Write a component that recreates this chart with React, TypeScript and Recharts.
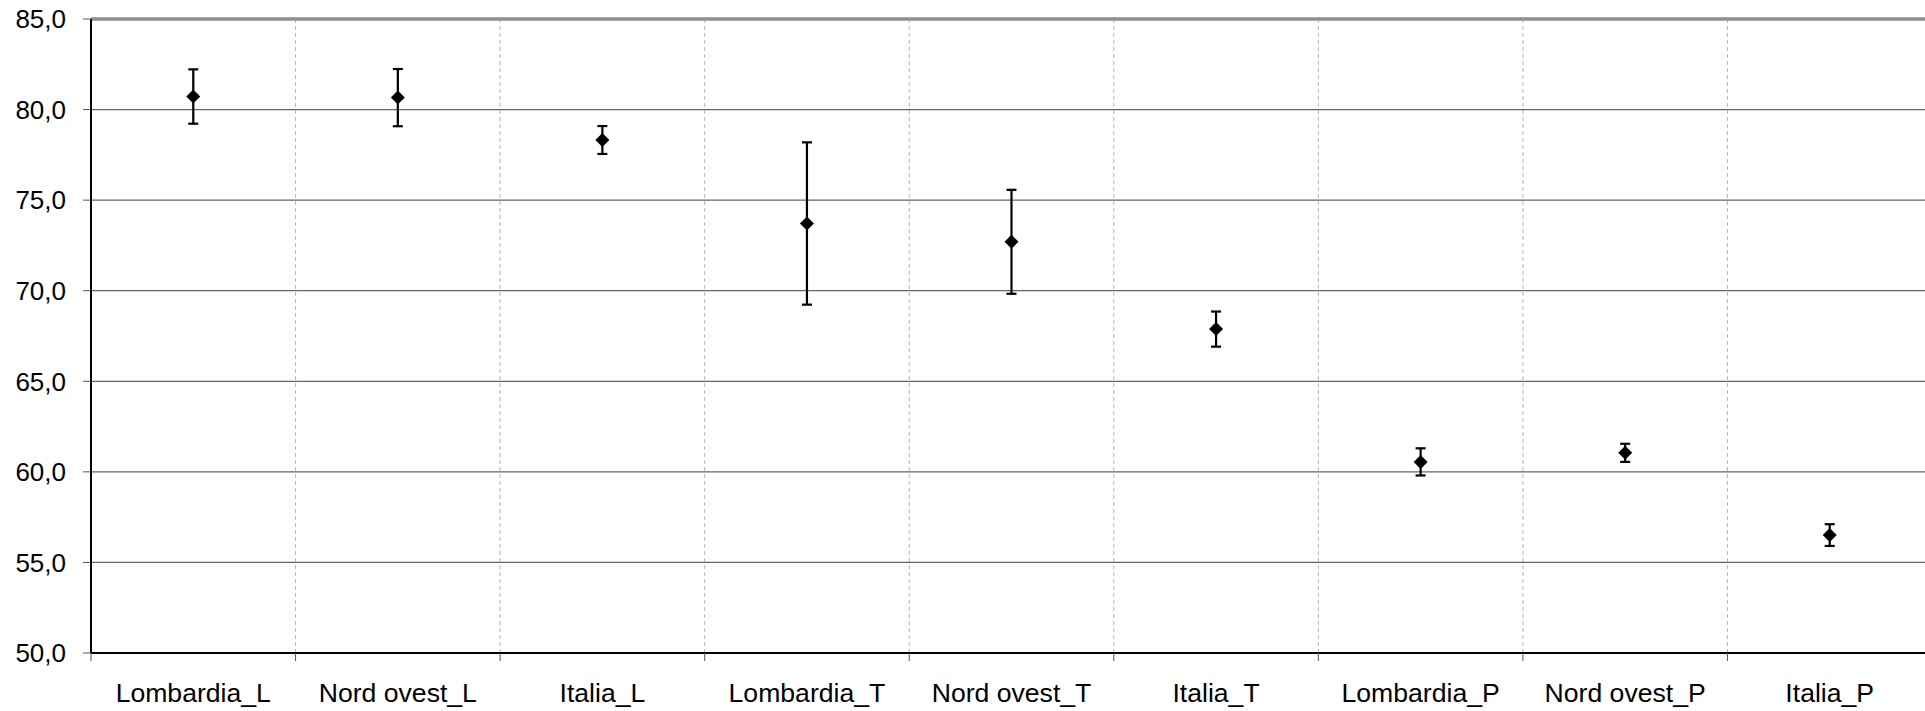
import React from 'react';
import {
  ComposedChart,
  Line,
  ErrorBar,
  XAxis,
  YAxis,
  CartesianGrid,
  ReferenceLine,
} from 'recharts';

const categories = [
  'Lombardia_L',
  'Nord ovest_L',
  'Italia_L',
  'Lombardia_T',
  'Nord ovest_T',
  'Italia_T',
  'Lombardia_P',
  'Nord ovest_P',
  'Italia_P',
];
const values = [80.72, 80.66, 78.32, 73.71, 72.7, 67.88, 60.55, 61.05, 56.51];
const errors = [1.5, 1.58, 0.77, 4.48, 2.87, 0.97, 0.75, 0.5, 0.6];
const yTicks = [50, 55, 60, 65, 70, 75, 80, 85];

const chartData = categories.map((name, i) => ({
  name,
  value: values[i],
  err: errors[i],
}));

const FONT = "'Liberation Sans', Arial, sans-serif";
const TICK_SIZE = 8;
const TICK_MARGIN = 22;

const fmt = (v: number) => v.toFixed(1).replace('.', ',');

const Diamond = (props: any) => {
  const { cx, cy } = props;
  if (cx == null || cy == null) return null;
  const r = 7;
  return (
    <polygon
      points={`${cx},${cy - r} ${cx + r},${cy} ${cx},${cy + r} ${cx - r},${cy}`}
      fill="#000"
    />
  );
};

const CategoryTick = (props: any) => {
  const { x, y, payload, index } = props;
  const half = payload?.offset ?? 0;
  const axisY = y - TICK_SIZE - TICK_MARGIN;
  return (
    <g>
      <line x1={x - half} x2={x - half} y1={axisY} y2={axisY + TICK_SIZE} stroke="#555" />
      {index === categories.length - 1 && (
        <line x1={x + half} x2={x + half} y1={axisY} y2={axisY + TICK_SIZE} stroke="#555" />
      )}
      <text x={x} y={y} dy="0.71em" textAnchor="middle" fill="#000" fontSize={26.6} fontFamily={FONT}>
        {payload.value}
      </text>
    </g>
  );
};

// vertical dashed lines sit on the category boundaries, not the centres
const boundaryLines = ({ offset }: any) =>
  categories
    .slice(1)
    .map((_, i) => offset.left + (offset.width * (i + 1)) / categories.length);

export default function App() {
  return (
    <div
      style={{
        position: 'fixed',
        left: 0,
        top: 0,
        width: 1925,
        height: 711,
        overflow: 'hidden',
        background: '#fff',
        fontFamily: FONT,
      }}
    >
      <ComposedChart
        width={1932}
        height={711}
        data={chartData}
        margin={{ top: 19, right: 0, bottom: 0, left: 0 }}
      >
        <CartesianGrid
          horizontal={false}
          stroke="#b5b5b5"
          strokeDasharray="4 3"
          verticalCoordinatesGenerator={boundaryLines}
        />
        <CartesianGrid vertical={false} stroke="#666" strokeWidth={1.3} />
        <ReferenceLine y={85} stroke="#8f8f8f" strokeWidth={3.5} />
        <XAxis
          dataKey="name"
          scale="band"
          height={58}
          axisLine={{ stroke: '#000', strokeWidth: 2 }}
          tickLine={{ stroke: 'none' }}
          tickSize={TICK_SIZE}
          tickMargin={TICK_MARGIN}
          interval={0}
          tick={<CategoryTick />}
        />
        <YAxis
          width={91}
          domain={[50, 85]}
          ticks={yTicks}
          interval={0}
          allowDataOverflow
          tickFormatter={fmt}
          tickSize={TICK_SIZE}
          tickMargin={17}
          axisLine={{ stroke: '#000', strokeWidth: 2 }}
          tickLine={{ stroke: '#555' }}
          tick={{ fill: '#000', fontSize: 26, fontFamily: FONT }}
        />
        <Line
          dataKey="value"
          stroke="none"
          dot={<Diamond />}
          activeDot={false}
          isAnimationActive={false}
        >
          <ErrorBar
            dataKey="err"
            direction="y"
            width={5}
            stroke="#000"
            strokeWidth={2.2}
            isAnimationActive={false}
          />
        </Line>
      </ComposedChart>
    </div>
  );
}
